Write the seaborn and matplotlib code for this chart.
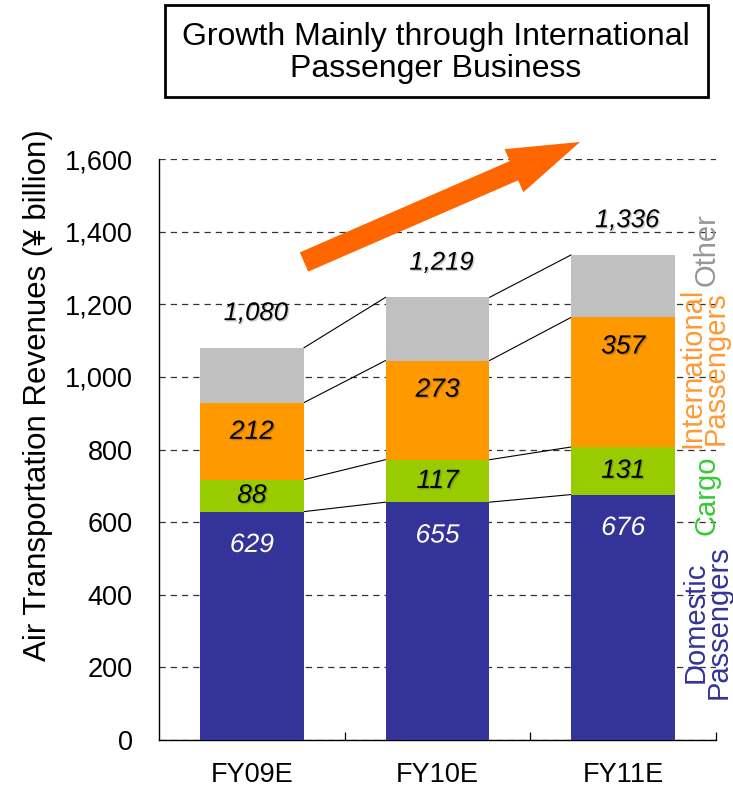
import matplotlib
matplotlib.use("Agg")
import matplotlib.pyplot as plt
import matplotlib.patches as mpatches
import matplotlib.patheffects as pe
from matplotlib.ticker import FuncFormatter, FixedLocator
import numpy as np
import pandas as pd
import seaborn as sns

# Data (yen billion)
years = ["FY09E", "FY10E", "FY11E"]
domestic = [629, 655, 676]
cargo = [88, 117, 131]
international = [212, 273, 357]
other = [151, 174, 172]

colors = {"domestic": "#333399", "cargo": "#99cc00",
          "international": "#ff9900", "other": "#c0c0c0"}

sns.set_theme(style="white")
plt.rcParams["font.family"] = ["Liberation Sans", "DejaVu Sans"]
plt.rcParams["text.color"] = "black"
plt.rcParams["axes.labelcolor"] = "black"
plt.rcParams["xtick.color"] = "black"
plt.rcParams["ytick.color"] = "black"

df = pd.DataFrame({"year": years, "domestic": domestic, "cargo": cargo,
                   "international": international, "other": other})
df["lvl1"] = df["domestic"]
df["lvl2"] = df["lvl1"] + df["cargo"]
df["lvl3"] = df["lvl2"] + df["international"]
df["lvl4"] = df["lvl3"] + df["other"]

fig = plt.figure(figsize=(7.33, 7.94), dpi=100)
ax = fig.add_axes([0.2169, 0.068, 0.7599, 0.7317])

bw = 0.56
# stacked bars drawn top level first, each one over the previous
for lvl, key in [("lvl4", "other"), ("lvl3", "international"),
                 ("lvl2", "cargo"), ("lvl1", "domestic")]:
    sns.barplot(data=df, x="year", y=lvl, color=colors[key], saturation=1,
                width=bw, errorbar=None, linewidth=0, ax=ax, zorder=3)

# connector lines between bars
for lvl in ["lvl1", "lvl2", "lvl3", "lvl4"]:
    vals = df[lvl].values
    for i in range(len(vals) - 1):
        ax.plot([i + bw / 2, i + 1 - bw / 2], [vals[i], vals[i + 1]],
                color="black", lw=0.8, zorder=2)

shadow = [pe.SimplePatchShadow(offset=(1, -1), alpha=0.2), pe.Normal()]
for i, r in df.iterrows():
    ax.annotate(f"{r['domestic']}", (i, r["lvl1"]), xytext=(0, -24),
                textcoords="offset points", ha="center", va="center",
                fontsize=19, style="italic", color="white", zorder=5,
                path_effects=shadow)
    ax.text(i, (r["lvl1"] + r["lvl2"]) / 2, f"{r['cargo']}", ha="center",
            va="center", fontsize=19, style="italic", color="black", zorder=5,
            path_effects=shadow)
    ax.annotate(f"{r['international']}", (i, r["lvl3"]), xytext=(0, -21),
                textcoords="offset points", ha="center", va="center",
                fontsize=19, style="italic", color="black", zorder=5,
                path_effects=shadow)
    ax.annotate(f"{r['lvl4']:,}", (i, r["lvl4"]), xytext=(3, 25),
                textcoords="offset points", ha="center", va="center",
                fontsize=18.5, style="italic", color="black", zorder=5,
                path_effects=shadow)

ax.set_xlim(-0.5, 2.5)
ax.set_ylim(0, 1600)
ax.set_yticks(np.arange(0, 1601, 200))
ax.yaxis.set_major_formatter(FuncFormatter(lambda v, p: f"{int(v):,}"))
ax.yaxis.grid(True, linestyle=(0, (5, 4)), color="#333333", lw=0.9)
ax.set_axisbelow(True)
ax.xaxis.set_minor_locator(FixedLocator([0.5, 1.5, 2.5]))
ax.tick_params(axis="x", which="major", length=0, labelsize=19.5, pad=16)
ax.tick_params(axis="x", which="minor", direction="in", length=6,
               width=0.9, color="black", bottom=True)
ax.tick_params(axis="y", length=0, labelsize=19.5, pad=19)
ax.set_xlabel("")
ax.set_ylabel("Air Transportation Revenues (¥ billion)", fontsize=22.5)
ax.yaxis.set_label_coords(-0.19, 0.594)
for s in ["top", "right"]:
    ax.spines[s].set_visible(False)
for s in ["left", "bottom"]:
    ax.spines[s].set_color("black")
    ax.spines[s].set_linewidth(1.0)

# side labels for the segments
side = [("Other", 707, 250, "#969696"),
        ("International\nPassengers", 704, 368, "#ff9933"),
        ("Cargo", 707, 495, "#33cc33"),
        ("Domestic\nPassengers", 707, 622, "#333399")]
for txt, px, py, col in side:
    fig.text(px / 733, 1 - py / 794, txt, rotation=90, ha="center",
             va="center", fontsize=21, color=col, linespacing=0.8)

# growth arrow
arrow = mpatches.FancyArrow(3.04, 7.94 - 2.62, 2.76, 1.20, width=0.21,
                            head_width=0.47, head_length=0.72,
                            length_includes_head=True, color="#ff6600",
                            lw=0, transform=fig.dpi_scale_trans)
fig.add_artist(arrow)

# title box
fig.add_artist(mpatches.Rectangle((165 / 733, 1 - 97 / 794), 543 / 733,
                                  92 / 794, transform=fig.transFigure,
                                  fill=False, edgecolor="black", lw=2))
fig.text(436 / 733, 1 - 53 / 794,
         "Growth Mainly through International\nPassenger Business",
         ha="center", va="center", fontsize=23, linespacing=1.08)

fig.savefig("out.png", dpi=100)
